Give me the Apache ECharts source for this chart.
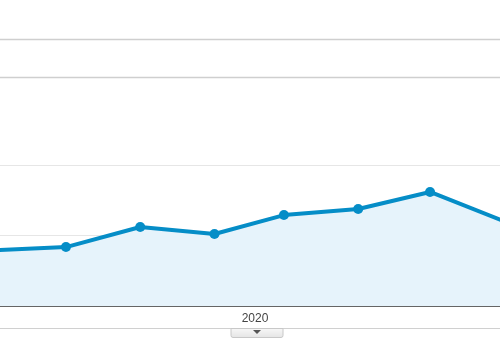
<!DOCTYPE html>
<html>
<head>
<meta charset="utf-8">
<script src="https://cdn.jsdelivr.net/npm/echarts@6/dist/echarts.min.js"></script>
<style>
  html, body { margin: 0; padding: 0; background: #fff; }
  #chart { width: 500px; height: 350px; }
</style>
</head>
<body>
<div id="chart"></div>
<script>
    // monthly points (first of month), the outer two are cut off by the frame
    let months = [
        Date.UTC(2019, 10, 1), Date.UTC(2019, 11, 1), Date.UTC(2020, 0, 1),
        Date.UTC(2020, 1, 1), Date.UTC(2020, 2, 1), Date.UTC(2020, 3, 1),
        Date.UTC(2020, 4, 1), Date.UTC(2020, 5, 1)
    ];
    let values = [39.5, 41.8, 56.0, 51.1, 64.5, 68.8, 80.9, 60.0];
    let yearLabel = '2020';
    // visible window of the time axis
    let viewStart = Date.UTC(2019, 10, 3, 11);
    let viewEnd = Date.UTC(2020, 4, 30, 5);

    let seriesData = months.map(function (m, i) { return [m, values[i]]; });

    let myChart = echarts.init(document.getElementById('chart'));
    let option = {
        animation: false,
        grid: { left: 0, right: 0, top: 165, bottom: 44 },
        xAxis: {
            type: 'time',
            min: viewStart,
            max: viewEnd,
            name: yearLabel,
            nameLocation: 'middle',
            nameGap: 7,
            nameTextStyle: {
                color: '#444',
                fontSize: 12,
                fontFamily: 'Liberation Sans, Arial, sans-serif',
                padding: [0, 0, 0, 10]
            },
            axisLine: { lineStyle: { color: '#3a3a3a', width: 1.5 } },
            axisTick: { show: false },
            axisLabel: { show: false },
            splitLine: { show: false }
        },
        yAxis: {
            type: 'value',
            min: 0,
            max: 100,
            interval: 50,
            axisLine: { show: false },
            axisTick: { show: false },
            axisLabel: { show: false },
            splitLine: { lineStyle: { color: '#e6e6e6', width: 1 } }
        },
        series: [{
            type: 'line',
            data: seriesData,
            symbol: 'circle',
            symbolSize: 10,
            showAllSymbol: true,
            lineStyle: { color: '#058dc7', width: 4 },
            itemStyle: { color: '#058dc7' },
            areaStyle: { color: '#e6f3fb', opacity: 1 }
        }],
        graphic: [
            { type: 'line', shape: { x1: 0, y1: 39.5, x2: 500, y2: 39.5 }, style: { stroke: '#cfcfcf', lineWidth: 1.5 } },
            { type: 'line', shape: { x1: 0, y1: 77.5, x2: 500, y2: 77.5 }, style: { stroke: '#cfcfcf', lineWidth: 1.5 } },
            { type: 'line', shape: { x1: 0, y1: 328.5, x2: 500, y2: 328.5 }, style: { stroke: '#d0d0d0', lineWidth: 1 } },
            {
                type: 'rect',
                shape: { x: 231, y: 328.5, width: 52, height: 9, r: [0, 0, 2, 2] },
                style: {
                    stroke: '#c8c8c8',
                    lineWidth: 1,
                    fill: new echarts.graphic.LinearGradient(0, 0, 0, 1, [
                        { offset: 0, color: '#f8f8f8' },
                        { offset: 1, color: '#e4e4e4' }
                    ])
                }
            },
            { type: 'polygon', shape: { points: [[253, 330], [261, 330], [257, 334]] }, style: { fill: '#555' } }
        ]
    };
    myChart.setOption(option);
</script>
</body>
</html>
